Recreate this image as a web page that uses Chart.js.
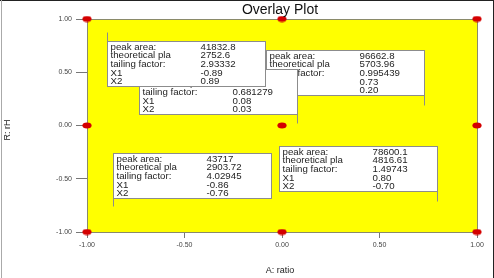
<!DOCTYPE html>
<html>
<head>
<meta charset="utf-8">
<script src="https://cdn.jsdelivr.net/npm/chart.js@4/dist/chart.umd.min.js"></script>
<style>
  html, body { margin: 0; padding: 0; background: #fff; }
  #wrap { width: 494px; height: 278px; position: relative; }
</style>
</head>
<body>
<div id="wrap"><canvas id="myChart" width="494" height="278"></canvas></div>
<script>
// design points
var ratioValues = [-1, 0, 1, -1, 0, 1, -1, 0, 1];
var rhValues = [1, 1, 1, 0, 0, 0, -1, -1, -1];
var tickValues = [-1, -0.5, 0, 0.5, 1];

// annotation text, one entry per box (drawn back to front)
var rowLabels = ['peak area:', 'theoretical pla', 'tailing factor:', 'X1', 'X2'];
var peakArea = ['96662.8', '', '41832.8', '43717', '78600.1'];
var theoreticalPla = ['5703.96', '', '2752.6', '2903.72', '4816.61'];
var tailingFactor = ['0.995439', '0.681279', '2.93332', '4.02945', '1.49743'];
var x1Values = ['0.73', '0.08', '-0.89', '-0.86', '0.80'];
var x2Values = ['0.20', '0.03', '0.89', '-0.76', '-0.70'];

// where each box sits (top-left corner in axis units) and its leader line
var boxSpots = [
  { x: -0.082, y: 0.709, lead: 'rightDown', len: 10 },
  { x: -0.733, y: 0.531, lead: 'rightDown', len: 9 },
  { x: -0.897, y: 0.793, lead: 'leftUp', len: 9 },
  { x: -0.867, y: -0.258, lead: 'leftDown', len: 8 },
  { x: -0.015, y: -0.192, lead: 'rightDown', len: 10 }
];

function makeDot() {
  var c = document.createElement('canvas');
  c.width = 10; c.height = 7;
  var g = c.getContext('2d');
  g.fillStyle = '#d40000';
  g.beginPath();
  g.ellipse(5, 3.5, 4.6, 3, 0, 0, Math.PI * 2);
  g.fill();
  return c;
}

var points = [];
for (var i = 0; i < ratioValues.length; i++) {
  points.push({ x: ratioValues[i], y: rhValues[i] });
}

var decorations = {
  id: 'decorations',
  beforeDraw: function(chart) {
    var ctx = chart.ctx, a = chart.chartArea;
    ctx.save();
    ctx.fillStyle = '#ffff00';
    ctx.fillRect(a.left, a.top, a.right - a.left, a.bottom - a.top);
    ctx.restore();
  },
  beforeDatasetsDraw: function(chart) {
    var ctx = chart.ctx, a = chart.chartArea;
    var xs = chart.scales.x, ys = chart.scales.y;
    ctx.save();
    ctx.strokeStyle = '#8a8a6a';
    ctx.lineWidth = 1;
    ctx.strokeRect(a.left + 0.5, a.top + 0.5, a.right - a.left, a.bottom - a.top);

    var w = 158, h = 45, lh = 8.7;
    ctx.font = '9.7px "Liberation Sans", Arial, sans-serif';
    ctx.textBaseline = 'middle';
    for (var b = 0; b < boxSpots.length; b++) {
      var s = boxSpots[b];
      var left = Math.round(xs.getPixelForValue(s.x)) + 0.5;
      var top = Math.round(ys.getPixelForValue(s.y)) + 0.5;
      ctx.fillStyle = '#ffffff';
      ctx.fillRect(left, top, w, h);
      ctx.strokeStyle = '#8c8c8c';
      ctx.strokeRect(left, top, w, h);
      ctx.beginPath();
      if (s.lead === 'rightDown') { ctx.moveTo(left + w, top + h); ctx.lineTo(left + w, top + h + s.len); }
      if (s.lead === 'leftDown') { ctx.moveTo(left, top + h); ctx.lineTo(left, top + h + s.len); }
      if (s.lead === 'leftUp') { ctx.moveTo(left, top); ctx.lineTo(left, top - s.len); }
      ctx.stroke();
      var vals = [peakArea[b], theoreticalPla[b], tailingFactor[b], x1Values[b], x2Values[b]];
      ctx.fillStyle = '#1e1e1e';
      for (var r = 0; r < rowLabels.length; r++) {
        var ty = top + 5.5 + r * lh;
        ctx.fillText(rowLabels[r], left + 3, ty);
        ctx.fillText(vals[r], left + 93, ty);
      }
    }
    ctx.restore();
  },
  afterDraw: function(chart) {
    var ctx = chart.ctx;
    ctx.save();
    ctx.fillStyle = '#111';
    ctx.textAlign = 'center';
    ctx.textBaseline = 'middle';
    ctx.font = '14px "Liberation Sans", Arial, sans-serif';
    ctx.fillText('Overlay Plot', 280, 10);
    ctx.font = '9px "Liberation Sans", Arial, sans-serif';
    ctx.fillStyle = '#222';
    ctx.fillText('A: ratio', 280, 271);
    ctx.translate(8, 130);
    ctx.rotate(-Math.PI / 2);
    ctx.fillText('R: rH', 0, 0);
    ctx.restore();
    // outer frame
    ctx.save();
    ctx.strokeStyle = '#222';
    ctx.beginPath();
    ctx.moveTo(0, 0.5); ctx.lineTo(494, 0.5);
    ctx.moveTo(493.5, 0); ctx.lineTo(493.5, 278);
    ctx.stroke();
    ctx.strokeStyle = '#aaa';
    ctx.beginPath();
    ctx.moveTo(1.5, 0); ctx.lineTo(1.5, 278);
    ctx.stroke();
    ctx.restore();
  }
};

var tickFont = { family: '"Liberation Sans", Arial, sans-serif', size: 7 };

var myChart = new Chart(document.getElementById('myChart').getContext('2d'), {
  type: 'scatter',
  data: {
    datasets: [{
      data: points,
      pointStyle: makeDot(),
      clip: false
    }]
  },
  options: {
    responsive: false,
    animation: false,
    layout: { padding: { left: 0, right: 17, top: 19, bottom: 0 } },
    plugins: { legend: { display: false }, tooltip: { enabled: false } },
    scales: {
      x: {
        min: -1, max: 1,
        afterBuildTicks: function(s) { s.ticks = tickValues.map(function(v) { return { value: v }; }); },
        afterFit: function(s) { s.height = 46; },
        border: { display: false },
        grid: { drawOnChartArea: false, tickLength: 6, color: '#777' },
        ticks: { font: tickFont, color: '#444', padding: 3, maxRotation: 0,
          callback: function(v) { return Number(v).toFixed(2); } }
      },
      y: {
        min: -1, max: 1,
        afterBuildTicks: function(s) { s.ticks = tickValues.map(function(v) { return { value: v }; }); },
        afterFit: function(s) { s.width = 87; },
        border: { display: false },
        grid: { drawOnChartArea: false, tickLength: 11, color: '#777' },
        ticks: { font: tickFont, color: '#444', padding: 4,
          callback: function(v) { return Number(v).toFixed(2); } }
      }
    }
  },
  plugins: [decorations]
});
</script>
</body>
</html>
